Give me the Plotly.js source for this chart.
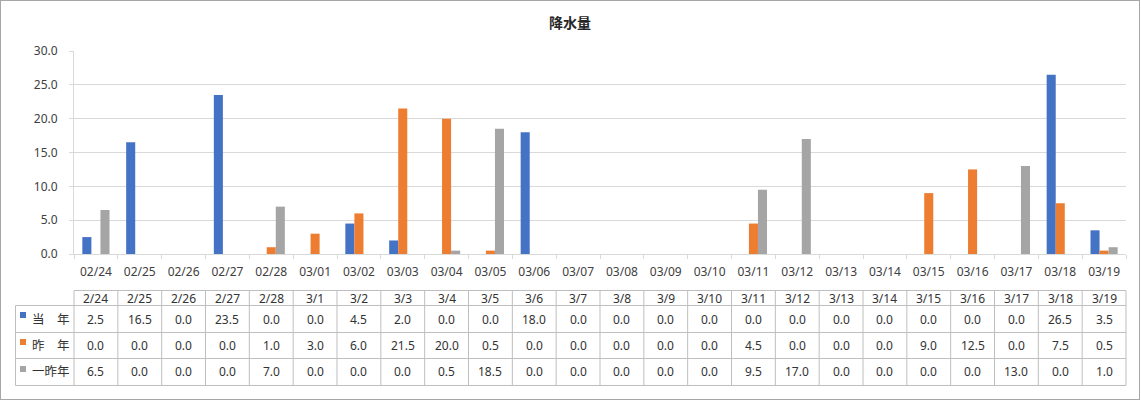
<!DOCTYPE html>
<html><head><meta charset="utf-8">
<script src="https://cdn.plot.ly/plotly-3.0.1.min.js"></script>
<style>
html,body{margin:0;padding:0;background:#fff;}
#wrap{position:absolute;left:0;top:0;width:1140px;height:400px;box-sizing:border-box;border:1px solid #a6a6a6;background:#fff;}
#chart{width:1138px;height:398px;}
</style></head><body>
<div id="wrap"><div id="chart"></div></div>
<script>
// ---- data ----
const categories = ['02/24','02/25','02/26','02/27','02/28','03/01','03/02','03/03','03/04','03/05','03/06','03/07','03/08','03/09','03/10','03/11','03/12','03/13','03/14','03/15','03/16','03/17','03/18','03/19'];
const headerLabels = ['2/24','2/25','2/26','2/27','2/28','3/1','3/2','3/3','3/4','3/5','3/6','3/7','3/8','3/9','3/10','3/11','3/12','3/13','3/14','3/15','3/16','3/17','3/18','3/19'];
const seriesNames = ['当　年','昨　年','一昨年'];
const thisYear    = [2.5,16.5,0,23.5,0,0,4.5,2.0,0,0,18.0,0,0,0,0,0,0,0,0,0,0,0,26.5,3.5];
const lastYear    = [0,0,0,0,1.0,3.0,6.0,21.5,20.0,0.5,0,0,0,0,0,4.5,0,0,0,9.0,12.5,0,7.5,0.5];
const twoYearsAgo = [6.5,0,0,0,7.0,0,0,0,0.5,18.5,0,0,0,0,0,9.5,17.0,0,0,0,0,13.0,0,1.0];
const yTicks = [0,5,10,15,20,25,30];

// ---- styles ----
const FONT = 'Noto Sans, Noto Sans CJK JP, sans-serif';
const colors = ['#4472C4','#ED7D31','#A5A5A5'];
const seriesData = [thisYear, lastYear, twoYearsAgo];
const lineCol = '#bfbfbf';
const textCol = '#333333';

const traces = seriesData.map((vals, k) => ({
  type: 'bar', x: categories, y: vals, name: seriesNames[k],
  marker: {color: colors[k], line: {width: 0}},
  hoverinfo: 'skip'
}));

// table geometry (paper coordinates relative to plot area)
const headerTop = -0.17980;
const rowLines = [-0.25369, -0.38670, -0.51478, -0.64778];
const headerMid = -0.21675;
const rowMids = [-0.32020, -0.45074, -0.58128];
const legendLeft = -0.05561;
const sqX = [-0.05133, -0.04563];
const sqY = [[-0.28571,-0.31527],[-0.41872,-0.44828],[-0.55172,-0.58128]];
const labelX = -0.0409;

const shapes = [];
const ln = {color: lineCol, width: 1};
shapes.push({type:'line', xref:'paper', yref:'paper', x0:0, x1:1, y0:headerTop, y1:headerTop, line:ln});
rowLines.forEach(y => shapes.push({type:'line', xref:'paper', yref:'paper', x0:legendLeft, x1:1, y0:y, y1:y, line:ln}));
for (let i = 1; i < categories.length; i++) {
  shapes.push({type:'line', xref:'x', yref:'paper', x0:i-0.5, x1:i-0.5, y0:headerTop, y1:rowLines[3], line:ln});
}
shapes.push({type:'line', xref:'paper', yref:'paper', x0:0, x1:0, y0:headerTop, y1:rowLines[3], line:ln});
shapes.push({type:'line', xref:'paper', yref:'paper', x0:1, x1:1, y0:headerTop, y1:rowLines[3], line:ln});
shapes.push({type:'line', xref:'paper', yref:'paper', x0:legendLeft, x1:legendLeft, y0:rowLines[0], y1:rowLines[3], line:ln});
colors.forEach((c, k) => shapes.push({type:'rect', xref:'paper', yref:'paper', x0:sqX[0], x1:sqX[1], y0:sqY[k][0], y1:sqY[k][1], fillcolor:c, line:{width:0}}));

const annotations = [];
const cellFont = {family: FONT, size: 12, color: textCol};
categories.forEach((c, i) => {
  annotations.push({xref:'x', yref:'paper', x:c, y:headerMid, text:headerLabels[i], showarrow:false, font:cellFont, xanchor:'center', yanchor:'middle', borderpad:0});
  seriesData.forEach((vals, k) => {
    annotations.push({xref:'x', yref:'paper', x:c, y:rowMids[k], text:vals[i].toFixed(1), showarrow:false, font:cellFont, xanchor:'center', yanchor:'middle', borderpad:0});
  });
});
seriesNames.forEach((n, k) => {
  annotations.push({xref:'paper', yref:'paper', x:labelX, y:rowMids[k], text:n, showarrow:false, font:{family: FONT, size: 12.5, color: textCol}, xanchor:'left', yanchor:'middle', borderpad:0});
});

const layout = {
  width: 1138, height: 398,
  margin: {l: 73, r: 13, t: 50, b: 145},
  paper_bgcolor: '#fff', plot_bgcolor: '#fff',
  font: {family: FONT, size: 12, color: '#595959'},
  title: {text: '降水量', font: {family: FONT, size: 14, color: '#262626', weight: 700}, xref: 'container', x: 0.5, xanchor: 'center', yref: 'container', y: 0.9435, yanchor: 'middle'},
  showlegend: false,
  barmode: 'group', bargap: 0.38, bargroupgap: 0,
  xaxis: {type: 'category', showline: true, linecolor: '#d9d9d9', linewidth: 1, ticks: 'outside', tickson: 'boundaries', ticklen: 4, tickcolor: '#d9d9d9', showgrid: false, zeroline: false, ticklabelstandoff: 7, tickfont: {family: FONT, size: 12, color: '#404040'}, fixedrange: true},
  yaxis: {range: [0, 30], tickvals: yTicks, tickformat: '.1f', showline: true, linecolor: '#d9d9d9', linewidth: 1, ticks: 'outside', ticklen: 4, tickcolor: '#d9d9d9', gridcolor: '#d9d9d9', gridwidth: 1, zeroline: false, ticklabelstandoff: 9, tickfont: {family: FONT, size: 12, color: '#404040'}, fixedrange: true},
  shapes: shapes,
  annotations: annotations
};
Plotly.newPlot('chart', traces, layout, {displayModeBar: false, staticPlot: true});
</script>
</body></html>
